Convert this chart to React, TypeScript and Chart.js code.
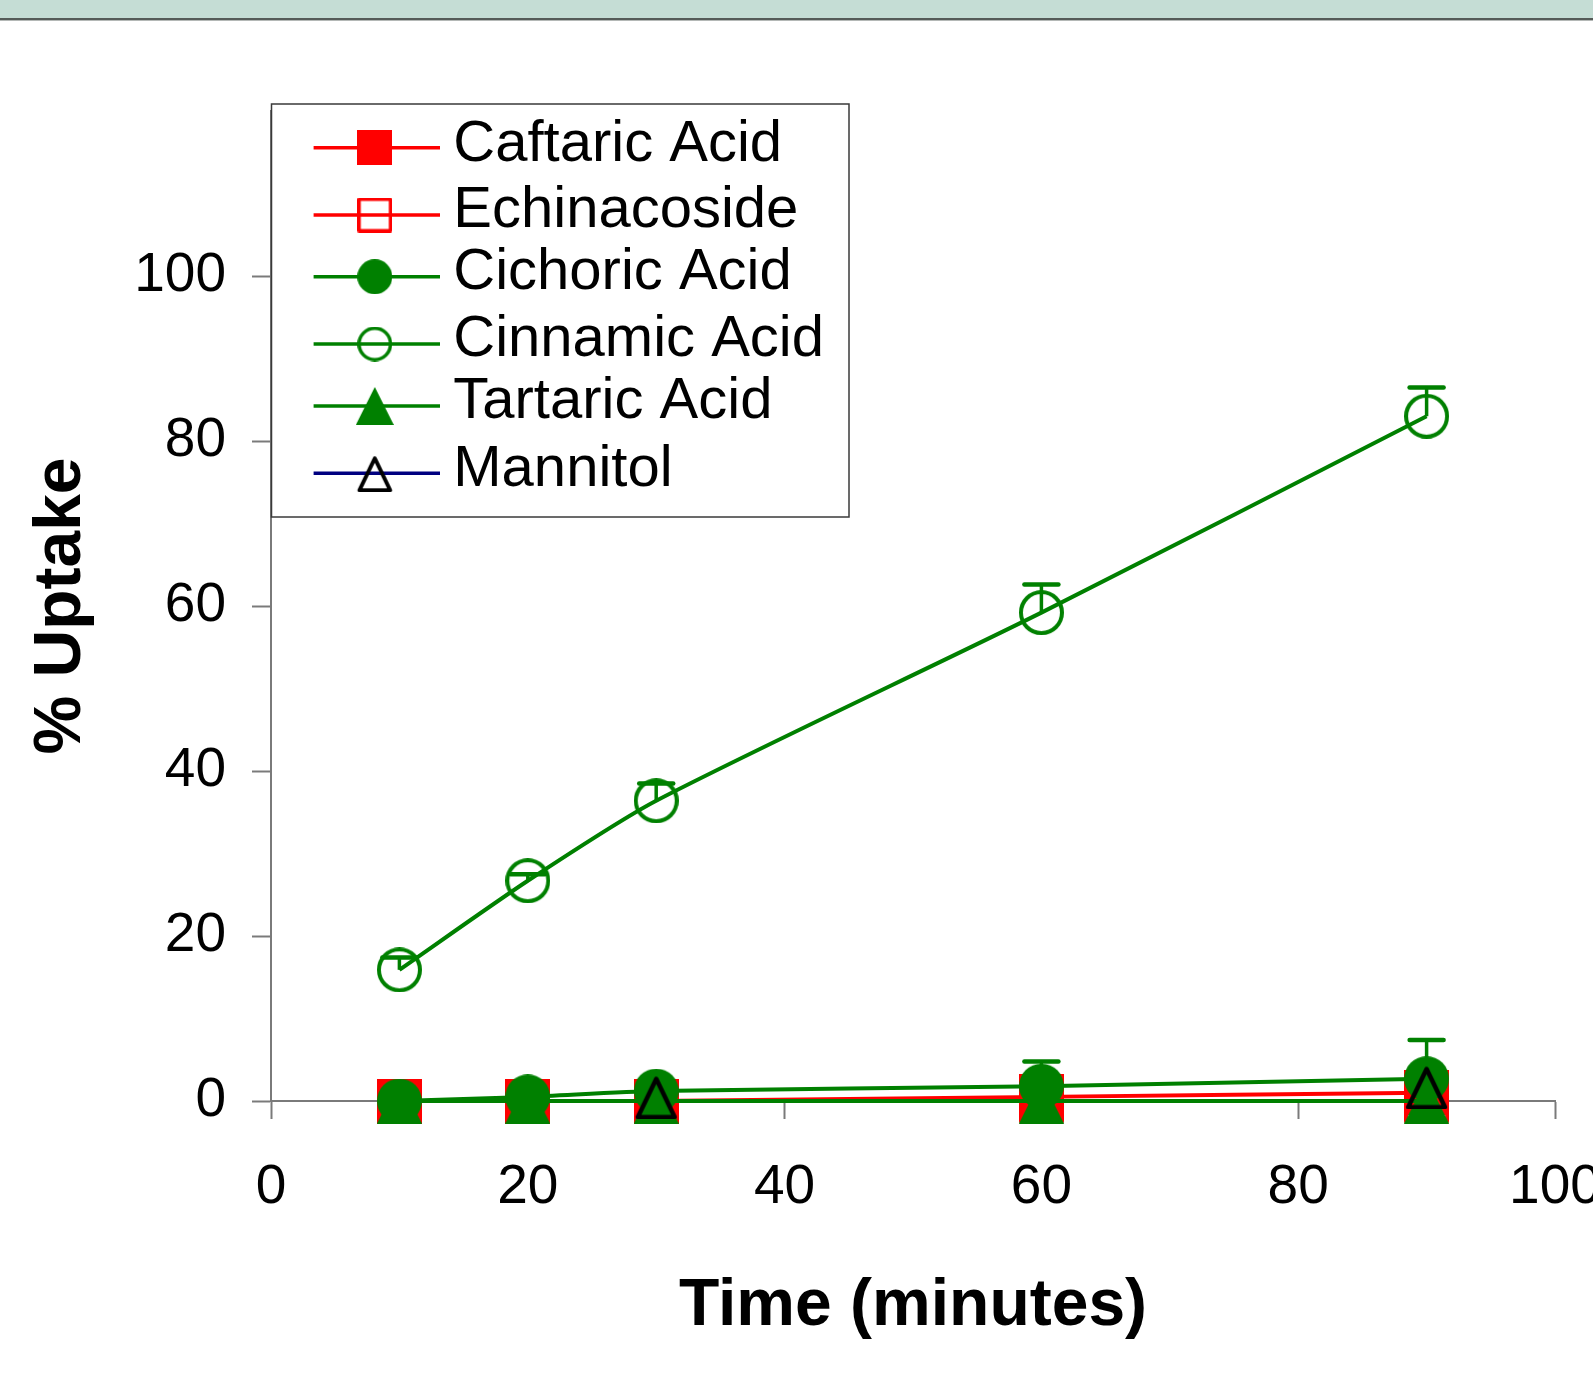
import React, { useEffect, useRef } from 'react';
import { Chart, registerables } from 'chart.js';

Chart.register(...registerables);

// ---------------- data ----------------
const timePoints = [10, 20, 30, 60, 90];
const xTickValues = [0, 20, 40, 60, 80, 100];
const yTickValues = [0, 20, 40, 60, 80, 100];
const seriesNames = ['Caftaric Acid', 'Echinacoside', 'Cichoric Acid', 'Cinnamic Acid', 'Tartaric Acid', 'Mannitol'];
const caftaric = [0, 0, 0, 0.5, 1.0];
const echinacoside = [0, 0, 0, 0, 0];
const cichoric = [0, 0.5, 1.2, 1.8, 2.7];
const cinnamic = [15.9, 26.7, 36.4, 59.2, 83.0];
const tartaric = [0, 0, 0, 0, 0];
const mannitol: (number | null)[] = [null, null, 0.5, null, 1.7];
const cichoricErr: (number | null)[] = [null, null, null, 3.0, 4.7];
const cinnamicErr: (number | null)[] = [1.5, 0.8, 2.1, 3.4, 3.5];

const RED = '#FF0000';
const GREEN = '#008000';
const NAVY = '#000080';
const BLACK = '#000000';
const FONT = "'Liberation Sans', Arial, Helvetica, sans-serif";

type Shape = 'square' | 'circle' | 'triangle';

function makeMarker(shape: Shape, size: number, color: string, filled: boolean, lw: number) {
  const c = document.createElement('canvas');
  c.width = size;
  c.height = size;
  const g = c.getContext('2d')!;
  g.fillStyle = color;
  g.strokeStyle = color;
  g.lineWidth = lw;
  g.lineJoin = 'round';
  const i = filled ? 0 : lw / 2;
  g.beginPath();
  if (shape === 'square') {
    g.rect(i, i, size - 2 * i, size - 2 * i);
  } else if (shape === 'circle') {
    g.arc(size / 2, size / 2, size / 2 - i, 0, Math.PI * 2);
  } else {
    g.moveTo(size / 2, filled ? 0 : lw);
    g.lineTo(size - (filled ? 0 : lw * 0.9), size - i);
    g.lineTo(filled ? 0 : lw * 0.9, size - i);
    g.closePath();
  }
  if (filled) g.fill();
  else g.stroke();
  return c;
}

const markerSpecs: { shape: Shape; color: string; filled: boolean; line: string; lw: number }[] = [
  { shape: 'square', color: RED, filled: true, line: RED, lw: 4 },
  { shape: 'square', color: RED, filled: false, line: RED, lw: 4 },
  { shape: 'circle', color: GREEN, filled: true, line: GREEN, lw: 4 },
  { shape: 'circle', color: GREEN, filled: false, line: GREEN, lw: 4 },
  { shape: 'triangle', color: GREEN, filled: true, line: GREEN, lw: 4 },
  { shape: 'triangle', color: BLACK, filled: false, line: NAVY, lw: 4.5 },
];

const seriesValues = [caftaric, echinacoside, cichoric, cinnamic, tartaric, mannitol];
const errorByName: Record<string, (number | null)[]> = {
  'Cichoric Acid': cichoricErr,
  'Cinnamic Acid': cinnamicErr,
};

export default function App() {
  const ref = useRef<HTMLCanvasElement | null>(null);

  useEffect(() => {
    const canvas = ref.current;
    if (!canvas) return;

    const plotMarkers = markerSpecs.map((m) => makeMarker(m.shape, 45, m.color, m.filled, m.lw));
    const legendMarkers = markerSpecs.map((m) =>
      makeMarker(m.shape, m.shape === 'triangle' ? 38 : 35, m.color, m.filled, m.lw - 0.5)
    );

    const datasets = seriesNames.map((name, si) => ({
      label: name,
      data: timePoints.map((t, i) => ({ x: t, y: seriesValues[si][i] })),
      borderColor: markerSpecs[si].line,
      backgroundColor: markerSpecs[si].line,
      borderWidth: 4,
      pointStyle: plotMarkers[si],
      pointRadius: 22,
      pointHoverRadius: 22,
      tension: 0.25,
      spanGaps: false,
      clip: false as const,
      order: seriesNames.length - si,
    }));

    const bandPlugin = {
      id: 'band',
      beforeDraw(chart: any) {
        const ctx = chart.ctx;
        ctx.save();
        ctx.fillStyle = '#ffffff';
        ctx.fillRect(0, 0, chart.width, chart.height);
        ctx.fillStyle = '#C5DDD5';
        ctx.fillRect(0, 0, chart.width, 18);
        ctx.fillStyle = '#555b58';
        ctx.fillRect(0, 18, chart.width, 2);
        ctx.fillStyle = '#b4b8b6';
        ctx.fillRect(0, 20, chart.width, 1);
        ctx.restore();
      },
    };

    const errorPlugin = {
      id: 'errbars',
      afterDatasetDraw(chart: any, args: any) {
        const ds = chart.data.datasets[args.index];
        const errs = errorByName[ds.label];
        if (!errs) return;
        const xs = chart.scales.x;
        const ys = chart.scales.y;
        const ctx = chart.ctx;
        ctx.save();
        ctx.strokeStyle = GREEN;
        ds.data.forEach((p: any, i: number) => {
          const e = errs[i];
          if (e == null || p.y == null) return;
          const px = xs.getPixelForValue(p.x);
          const py0 = ys.getPixelForValue(p.y);
          const py1 = ys.getPixelForValue(p.y + e);
          ctx.lineWidth = 3.5;
          ctx.beginPath();
          ctx.moveTo(px, py0);
          ctx.lineTo(px, py1);
          ctx.stroke();
          ctx.lineWidth = 4.5;
          ctx.lineCap = 'round';
          ctx.beginPath();
          ctx.moveTo(px - 17, py1);
          ctx.lineTo(px + 17, py1);
          ctx.stroke();
          ctx.lineCap = 'butt';
        });
        ctx.restore();
      },
    };

    const legendPlugin = {
      id: 'customLegend',
      afterDraw(chart: any) {
        const ctx = chart.ctx;
        const box = { l: 271.5, t: 104, r: 849, b: 517 };
        const rowsMarker = [147.7, 215, 276.7, 344, 406, 473.3];
        const rowsText = [160.7, 227.3, 289.3, 356, 418.3, 486];
        ctx.save();
        ctx.fillStyle = '#ffffff';
        ctx.fillRect(box.l, box.t, box.r - box.l, box.b - box.t);
        ctx.strokeStyle = '#3a3a3a';
        ctx.lineWidth = 1.5;
        ctx.strokeRect(box.l, box.t, box.r - box.l, box.b - box.t);
        seriesNames.forEach((name, i) => {
          const y = rowsMarker[i];
          ctx.strokeStyle = markerSpecs[i].line;
          ctx.lineWidth = 3.5;
          ctx.beginPath();
          ctx.moveTo(313.6, y);
          ctx.lineTo(440, y);
          ctx.stroke();
          const mk = legendMarkers[i];
          ctx.drawImage(mk, 374.8 - mk.width / 2, y - mk.height / 2);
          ctx.fillStyle = '#000000';
          ctx.font = `58px ${FONT}`;
          ctx.textAlign = 'left';
          ctx.textBaseline = 'alphabetic';
          ctx.fillText(name, 453.3, rowsText[i]);
        });
        ctx.restore();
      },
    };

    Chart.defaults.font.family = FONT;
    Chart.defaults.color = '#000000';

    const chart = new Chart(canvas, {
      type: 'line',
      data: { datasets: datasets as any },
      options: {
        animation: false,
        responsive: false,
        devicePixelRatio: 1,
        events: [],
        layout: { padding: { top: 111, right: 145, bottom: 0, left: 0 } },
        plugins: {
          legend: { display: false },
          tooltip: { enabled: false },
          title: { display: false },
        },
        scales: {
          x: {
            type: 'linear',
            min: 0,
            max: 100,
            afterBuildTicks: (s: any) => {
              s.ticks = xTickValues.map((v) => ({ value: v }));
            },
            afterFit: (s: any) => {
              s.height = 276;
            },
            ticks: {
              font: { size: 55 },
              color: '#000000',
              padding: 36,
              maxRotation: 0,
              autoSkip: false,
              callback: (v: any) => String(v),
            },
            grid: {
              display: true,
              drawOnChartArea: false,
              drawTicks: true,
              tickLength: 18,
              tickColor: '#7a7a7a',
              tickWidth: 2,
            },
            border: { display: true, color: '#7a7a7a', width: 2 },
            title: {
              display: true,
              text: 'Time (minutes)',
              font: { size: 66, weight: 'bold' },
              color: '#000000',
              padding: { top: 0, bottom: 31 },
            },
          },
          y: {
            type: 'linear',
            min: 0,
            max: 120,
            afterBuildTicks: (s: any) => {
              s.ticks = yTickValues.map((v) => ({ value: v }));
            },
            afterFit: (s: any) => {
              s.width = 271;
            },
            ticks: {
              font: { size: 55 },
              color: '#000000',
              padding: 26,
              callback: (v: any) => String(v),
            },
            grid: {
              display: true,
              drawOnChartArea: false,
              drawTicks: true,
              tickLength: 19,
              tickColor: '#7a7a7a',
              tickWidth: 2,
            },
            border: { display: true, color: '#7a7a7a', width: 2 },
            title: {
              display: true,
              text: '% Uptake',
              font: { size: 66, weight: 'bold' },
              color: '#000000',
              padding: { top: 22, bottom: 0 },
            },
          },
        },
      },
      plugins: [bandPlugin, errorPlugin, legendPlugin],
    } as any);

    return () => {
      chart.destroy();
    };
  }, []);

  return (
    <div
      style={{
        position: 'absolute',
        left: 0,
        top: 0,
        width: 1593,
        height: 1377,
        overflow: 'hidden',
        background: '#ffffff',
      }}
    >
      <canvas ref={ref} width={1700} height={1377} style={{ width: 1700, height: 1377, display: 'block' }} />
    </div>
  );
}
